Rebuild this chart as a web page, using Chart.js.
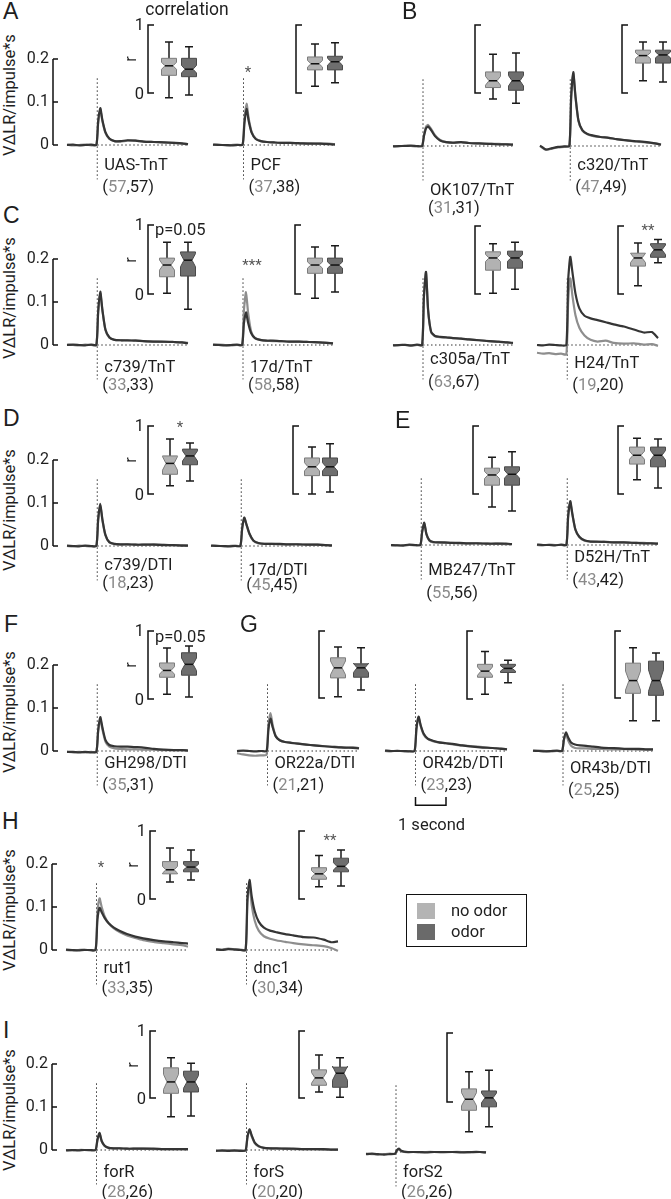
<!DOCTYPE html>
<html>
<head>
<meta charset="utf-8">
<script src="https://cdn.jsdelivr.net/npm/chart.js@4.4.1/dist/chart.umd.min.js"></script>
<style>
  body { margin: 0; background: #fff; }
  #fig { position: relative; width: 671px; height: 1199px; overflow: hidden; background: #fff;
         font-family: Roboto, "Liberation Sans", sans-serif; color: #1e1e1e; }
  #fig canvas { position: absolute; }
  .t { position: absolute; white-space: nowrap; line-height: 1; }
  .lbl { font-size: 16.5px; }
  .letter { font-size: 23px; font-family: "Liberation Sans", Arial, sans-serif; }
  .ytitle { font-size: 16.5px; }
  .star { font-size: 15px; color: #555; }
  .gray { color: #8a8a8a; }
  #legend { position: absolute; left: 406px; top: 894px; width: 121px; height: 53px; border: 1px solid #111; box-sizing: border-box; }
  .sw { position: absolute; width: 18px; height: 16px; }
</style>
</head>
<body>
<div id="fig"></div>
<script>
// ---- data ----
const panelNames = ["UAS-TnT", "PCF", "OK107/TnT", "c320/TnT",
  "c739/TnT", "17d/TnT", "c305a/TnT", "H24/TnT",
  "c739/DTI", "17d/DTI", "MB247/TnT", "D52H/TnT",
  "GH298/DTI", "OR22a/DTI", "OR42b/DTI", "OR43b/DTI",
  "rut1", "dnc1", "forR", "forS", "forS2"];
const nNoOdor = [57, 37, 31, 47, 33, 58, 63, 19, 18, 45, 55, 43, 35, 21, 23, 25, 33, 30, 28, 20, 26];
const nOdor   = [57, 38, 31, 49, 33, 58, 67, 20, 23, 45, 56, 42, 31, 21, 23, 25, 35, 34, 26, 20, 26];

// time (s) relative to stimulus
const timeS = [-1, -0.8, -0.6, -0.4, -0.2, -0.03, 0.03, 0.1, 0.17, 0.27, 0.4, 0.57, 0.77, 1, 1.27, 1.53, 1.87, 2.2, 2.53, 2.8, 3];

// VΔLR / impulse*s, no odor (light) and odor (dark)
const traceNoOdor = [
  [0.001,-0.001,0.000,0.001,-0.001,0.000,0.050,0.082,0.055,0.028,0.014,0.009,0.008,0.010,0.010,0.008,0.007,0.006,0.005,0.003,0.002],
  [0.000,0.001,-0.001,0.000,0.001,0.000,0.060,0.096,0.062,0.030,0.015,0.009,0.007,0.006,0.005,0.005,0.004,0.004,0.003,0.003,0.002],
  [0.000,-0.001,0.001,0.000,-0.001,0.000,0.025,0.045,0.049,0.040,0.025,0.014,0.009,0.007,0.009,0.007,0.006,0.005,0.005,0.004,0.003],
  [0.000,-0.009,-0.006,-0.003,-0.002,0.000,0.110,0.168,0.115,0.058,0.036,0.027,0.023,0.021,0.019,0.016,0.013,0.010,0.008,0.006,0.004],
  [0.001,0.000,-0.001,0.001,0.000,0.000,0.075,0.120,0.080,0.035,0.017,0.012,0.011,0.010,0.011,0.009,0.008,0.007,0.007,0.006,0.005],
  [0.000,0.001,0.000,-0.001,0.000,0.000,0.080,0.123,0.075,0.032,0.016,0.012,0.010,0.009,0.009,0.008,0.008,0.007,0.006,0.005,0.004],
  [0.000,-0.001,0.001,-0.002,0.000,0.000,0.110,0.168,0.080,0.030,0.020,0.018,0.017,0.016,0.015,0.013,0.011,0.009,0.007,0.006,0.004],
  [-0.018,-0.020,-0.019,-0.021,-0.020,-0.022,0.100,0.155,0.115,0.070,0.040,0.022,0.012,0.008,0.010,0.005,0.003,0.004,0.001,0.002,-0.002],
  [0.000,-0.001,0.001,0.000,-0.001,0.000,0.060,0.095,0.060,0.025,0.008,0.004,0.003,0.004,0.003,0.003,0.004,0.003,0.002,0.002,0.001],
  [0.000,0.001,-0.001,0.000,0.001,0.000,0.040,0.064,0.050,0.028,0.012,0.006,0.005,0.005,0.004,0.004,0.004,0.003,0.003,0.002,0.002],
  [-0.001,0.000,-0.002,0.000,-0.001,0.000,0.030,0.050,0.025,0.010,0.006,0.006,0.005,0.005,0.004,0.004,0.004,0.003,0.003,0.002,0.002],
  [0.000,-0.001,0.001,0.000,0.000,0.000,0.065,0.098,0.070,0.035,0.018,0.010,0.008,0.007,0.008,0.006,0.006,0.005,0.005,0.004,0.003],
  [-0.002,-0.003,-0.002,-0.003,-0.002,-0.002,0.045,0.074,0.050,0.022,0.010,0.006,0.005,0.004,0.004,0.003,0.003,0.002,0.002,0.002,0.001],
  [-0.005,-0.008,-0.010,-0.011,-0.010,-0.009,0.060,0.088,0.060,0.035,0.025,0.021,0.019,0.017,0.015,0.013,0.011,0.010,0.008,0.009,0.007],
  [0.000,-0.001,0.001,-0.001,0.000,0.000,0.050,0.077,0.058,0.038,0.028,0.023,0.020,0.018,0.015,0.013,0.011,0.009,0.007,0.006,0.004],
  [0.000,0.001,0.000,-0.001,0.000,0.000,0.025,0.040,0.025,0.012,0.007,0.006,0.006,0.005,0.005,0.004,0.004,0.004,0.003,0.003,0.003],
  [0.000,-0.001,0.000,0.001,-0.001,0.000,0.085,0.120,0.100,0.078,0.062,0.050,0.041,0.034,0.028,0.023,0.019,0.016,0.013,0.011,0.008],
  [0.002,0.001,0.003,0.002,0.001,0.000,0.110,0.155,0.105,0.068,0.045,0.032,0.026,0.022,0.019,0.016,0.013,0.011,0.009,0.004,-0.002],
  [0.000,-0.001,0.000,0.000,-0.001,0.000,0.022,0.038,0.020,0.009,0.005,0.004,0.004,0.003,0.003,0.003,0.002,0.002,0.002,0.002,0.001],
  [-0.001,-0.002,-0.001,-0.002,-0.001,-0.001,0.028,0.046,0.032,0.016,0.008,0.005,0.004,0.003,0.003,0.002,0.002,0.002,0.001,0.001,0.001],
  [-0.004,-0.005,-0.006,-0.005,-0.004,-0.004,0.003,0.006,0.002,0.000,-0.001,0.000,-0.001,0.000,0.000,-0.001,0.000,0.000,-0.001,0.000,-0.001]
];
const traceOdor = [
  [0.000,0.001,-0.001,0.000,0.001,0.000,0.055,0.086,0.058,0.030,0.015,0.009,0.009,0.011,0.010,0.008,0.007,0.006,0.005,0.004,0.002],
  [0.001,0.000,0.000,-0.001,0.000,0.001,0.050,0.084,0.056,0.028,0.014,0.009,0.007,0.006,0.005,0.005,0.004,0.003,0.003,0.002,0.001],
  [-0.001,0.000,0.000,0.001,0.000,0.000,0.022,0.041,0.045,0.037,0.023,0.013,0.009,0.008,0.009,0.007,0.006,0.005,0.004,0.004,0.003],
  [0.001,-0.008,-0.005,-0.002,-0.001,0.000,0.115,0.172,0.118,0.060,0.037,0.028,0.024,0.021,0.019,0.016,0.013,0.011,0.009,0.006,0.003],
  [0.000,0.001,0.000,-0.001,0.001,0.000,0.078,0.124,0.082,0.036,0.018,0.012,0.011,0.011,0.010,0.009,0.008,0.008,0.007,0.006,0.004],
  [0.001,0.000,-0.001,0.000,0.001,0.000,0.050,0.076,0.052,0.028,0.016,0.012,0.010,0.010,0.009,0.008,0.008,0.007,0.006,0.005,0.004],
  [-0.001,0.000,0.000,-0.001,0.001,0.000,0.112,0.170,0.082,0.031,0.021,0.019,0.018,0.016,0.015,0.013,0.011,0.009,0.008,0.006,0.005],
  [0.000,-0.001,0.001,0.000,-0.001,0.000,0.150,0.205,0.170,0.120,0.085,0.068,0.062,0.058,0.053,0.048,0.043,0.036,0.029,0.030,0.016],
  [0.001,0.000,-0.001,0.001,0.000,0.000,0.062,0.098,0.062,0.026,0.009,0.005,0.004,0.004,0.003,0.003,0.003,0.002,0.002,0.001,0.001],
  [0.001,0.000,0.000,-0.001,0.000,0.000,0.041,0.066,0.051,0.029,0.013,0.007,0.005,0.005,0.005,0.004,0.004,0.003,0.003,0.002,0.001],
  [0.000,-0.001,-0.001,0.001,0.000,0.000,0.031,0.052,0.026,0.011,0.007,0.006,0.006,0.005,0.005,0.004,0.004,0.003,0.003,0.003,0.002],
  [0.001,0.000,0.000,-0.001,0.001,0.000,0.068,0.102,0.072,0.036,0.019,0.011,0.008,0.008,0.007,0.006,0.006,0.005,0.004,0.004,0.003],
  [-0.002,-0.002,-0.003,-0.002,-0.003,-0.002,0.048,0.079,0.055,0.026,0.014,0.011,0.010,0.010,0.009,0.008,0.005,0.003,0.002,0.002,0.001],
  [0.000,0.001,0.000,-0.001,0.000,0.000,0.050,0.075,0.055,0.034,0.025,0.021,0.019,0.017,0.015,0.013,0.011,0.009,0.008,0.007,0.006],
  [0.001,0.000,0.000,0.000,-0.001,0.000,0.052,0.080,0.060,0.040,0.029,0.024,0.020,0.018,0.016,0.013,0.010,0.008,0.007,0.005,0.004],
  [0.001,0.000,-0.001,0.000,0.001,0.000,0.027,0.043,0.032,0.020,0.015,0.013,0.012,0.010,0.008,0.007,0.006,0.005,0.005,0.004,0.004],
  [0.001,0.000,-0.001,0.000,0.000,0.000,0.070,0.098,0.088,0.074,0.062,0.052,0.044,0.037,0.031,0.027,0.023,0.020,0.018,0.016,0.015],
  [0.001,0.000,0.002,0.001,0.000,0.000,0.120,0.163,0.125,0.090,0.066,0.052,0.045,0.041,0.037,0.034,0.030,0.029,0.024,0.018,0.020],
  [-0.001,0.000,-0.001,0.000,0.000,0.000,0.024,0.040,0.021,0.010,0.005,0.004,0.004,0.003,0.003,0.003,0.003,0.002,0.002,0.002,0.002],
  [-0.002,-0.001,-0.002,-0.001,-0.002,-0.001,0.030,0.048,0.034,0.017,0.009,0.005,0.004,0.004,0.003,0.003,0.002,0.002,0.002,0.001,0.001],
  [-0.005,-0.004,-0.005,-0.006,-0.005,-0.004,0.004,0.008,0.003,0.001,0.000,0.000,0.000,-0.001,0.000,0.000,0.000,-0.001,0.000,0.000,-0.001]
];

// correlation r boxes: [lower whisker, q1, median, q3, upper whisker]
const boxNoOdor = [
  [-0.07,0.26,0.40,0.51,0.75], [0.10,0.34,0.43,0.53,0.72], [-0.09,0.08,0.18,0.31,0.57], [0.18,0.44,0.55,0.63,0.75],
  [0.01,0.25,0.42,0.52,0.75], [-0.06,0.30,0.42,0.52,0.68], [0.01,0.35,0.53,0.62,0.74], [0.12,0.41,0.53,0.60,0.75],
  [0.12,0.29,0.45,0.56,0.81], [0.00,0.27,0.40,0.53,0.69], [-0.19,0.13,0.28,0.38,0.54], [0.21,0.44,0.57,0.69,0.82],
  [0.07,0.32,0.42,0.53,0.75], [0.02,0.30,0.45,0.60,0.76], [0.07,0.32,0.41,0.51,0.70], [-0.34,0.07,0.26,0.52,0.75],
  [0.25,0.37,0.43,0.55,0.75], [0.18,0.29,0.37,0.46,0.64],
  [-0.28,0.07,0.24,0.45,0.60], [0.09,0.19,0.30,0.42,0.64], [-0.43,-0.12,0.04,0.19,0.44]
];
const boxOdor = [
  [-0.03,0.24,0.35,0.51,0.68], [0.15,0.34,0.46,0.54,0.74], [-0.15,0.04,0.18,0.31,0.59], [0.16,0.44,0.56,0.63,0.75],
  [-0.22,0.26,0.49,0.61,0.75], [0.03,0.30,0.42,0.52,0.70], [0.07,0.38,0.53,0.63,0.76], [0.46,0.54,0.65,0.74,0.80],
  [0.19,0.43,0.56,0.66,0.75], [0.03,0.27,0.40,0.53,0.74], [-0.25,0.13,0.29,0.40,0.62], [0.09,0.40,0.57,0.69,0.81],
  [0.03,0.35,0.51,0.68,0.78], [0.12,0.31,0.45,0.51,0.75], [0.24,0.39,0.45,0.51,0.57], [-0.34,0.04,0.26,0.55,0.67],
  [0.28,0.40,0.47,0.55,0.72], [0.19,0.40,0.48,0.60,0.72],
  [-0.27,0.09,0.24,0.40,0.52], [0.01,0.16,0.37,0.46,0.60], [-0.36,-0.07,0.06,0.16,0.46]
];

const traceStars = ["", "*", "", "", "", "***", "", "", "", "", "", "", "", "", "", "", "*", "", "", "", ""];
const boxNotes   = ["", "", "", "", "p=0.05", "", "", "**", "*", "", "", "", "p=0.05", "", "", "", "", "**", "", "", ""];
const yTicks = [0, 0.1, 0.2];
const yTickLabels = ["0", "0.1", "0.2"];
const yTitle = "V\u0394LR/impulse*s";

// ---- layout (pixels) ----
// [traceStartX, traceEndX, baselineY, bracketX, r1Y, r0Y, box1X, box2X, labelDy, countDy]
const panelLayout = [
  [67,188,145,148,25,93,169,189,20,42], [213,335,145,296,25,93,315,335,20,42],
  [393,513,146,475,25,93,493,516,44,62], [540,661,146,622,25,93,643,663,19,41],
  [67,188,345,148,225,294,167,188,22,40], [213,333,345,295,225,294,315,335,22,40],
  [393,513,345,475,226,294,493,515,14,37], [537,658,345,618,226,294,638,658,18,40],
  [67,188,546,148,426,494,170,190,19,37], [211,332,546,293,426,494,312,330,24,39],
  [391,512,545,473,426,494,492,512,25,48], [537,658,545,618,426,494,637,658,12,35],
  [67,188,751,148,631,699,167,189,12,34], [237,359,751,319,631,698,338,361,12,34],
  [385,507,751,467,631,699,485,508,12,34], [533,653,751,615,631,698,633,656,17,39],
  [66,188,950,150,831,899,170,191,18,38], [216,338,950,299,831,899,319,341,18,38],
  [66,188,1150,150,1031,1098,171,191,22,42], [216,338,1150,299,1031,1098,319,340,22,42],
  [366,486,1152,447,1033,1102,469,489,20,40]
];
const firstCol = [0, 4, 8, 12, 16, 18];
const starPos = { 1: [248, 72], 5: [252, 265], 16: [101, 867] };
const notePos = { 4: [155, 230], 7: [648, 230], 8: [180, 427], 12: [155, 637], 17: [330, 840] };
const letters = [["A", 3, 11], ["B", 402, 11], ["C", 3, 215], ["D", 3, 418], ["E", 395, 420],
  ["F", 4, 624], ["G", 240, 624], ["H", 2, 821], ["I", 3, 1030]];
const titleY = [95, 298, 510, 712, 910, 1110];

const PX_PER_UNIT = 430;     // trace y: pixels per VΔLR unit
const ODOR_LINE = "#353535";
const NO_ODOR_LINE = "#8e8e8e";
const BOX_FILL = ["#b2b2b2", "#6e6e6e"];
const BOX_EDGE = ["#7c7c7c", "#4a4a4a"];
const TICK_FONT = "16px Roboto, 'Liberation Sans', sans-serif";

const fig = document.getElementById("fig");

function addCanvas(left, top, w, h) {
  const c = document.createElement("canvas");
  c.width = w; c.height = h;
  c.style.left = left + "px"; c.style.top = top + "px";
  c.style.width = w + "px"; c.style.height = h + "px";
  fig.appendChild(c);
  return c;
}

function addText(html, x, y, cls, align, rotate) {
  const d = document.createElement("div");
  d.className = "t " + (cls || "");
  d.innerHTML = html;
  d.style.left = x + "px";
  d.style.top = y + "px";
  const tx = align === "c" ? "-50%" : align === "r" ? "-100%" : "0";
  d.style.transform = `translate(${tx},-50%)` + (rotate ? " rotate(-90deg)" : "");
  fig.appendChild(d);
  return d;
}

const toXY = (xs, ys) => xs.map((x, k) => ({ x, y: ys[k] }));

// y axis bracket with inward ticks, and the 1 s scale bar
const traceAxisPlugin = {
  id: "traceAxis",
  afterDatasetsDraw(chart, args, opts) {
    const { ctx, scales: { x, y } } = chart;
    ctx.save();
    ctx.strokeStyle = "#111";
    ctx.fillStyle = "#1e1e1e";
    ctx.lineWidth = 1.5;
    if (opts.axis) {
      const ax = Math.round(x.getPixelForValue(timeS[0])) - 14;
      ctx.beginPath();
      ctx.moveTo(ax, y.getPixelForValue(yTicks[0]));
      ctx.lineTo(ax, y.getPixelForValue(yTicks[yTicks.length - 1]));
      yTicks.forEach(v => {
        const py = y.getPixelForValue(v);
        ctx.moveTo(ax, py);
        ctx.lineTo(ax + 5, py);
      });
      ctx.stroke();
      ctx.font = TICK_FONT;
      ctx.textAlign = "right";
      ctx.textBaseline = "middle";
      yTicks.forEach((v, k) => ctx.fillText(yTickLabels[k], ax - 4, y.getPixelForValue(v)));
    }
    if (opts.scaleBar) {
      const xa = x.getPixelForValue(0), xb = x.getPixelForValue(1);
      const ya = y.getPixelForValue(-0.107), yb = y.getPixelForValue(-0.126);
      ctx.beginPath();
      ctx.moveTo(xa, ya); ctx.lineTo(xa, yb); ctx.lineTo(xb, yb); ctx.lineTo(xb, ya);
      ctx.stroke();
    }
    ctx.restore();
  }
};

// notched box plots (notch = median ± 1.57·IQR/√n) with the "[" r-axis
const notchBoxPlugin = {
  id: "notchBox",
  afterDatasetsDraw(chart, args, o) {
    const { ctx, scales: { x, y } } = chart;
    const py = v => y.getPixelForValue(v);
    ctx.save();
    ctx.strokeStyle = "#111";
    ctx.lineWidth = 1.5;
    ctx.beginPath();
    ctx.moveTo(o.bracketX + 6, py(1)); ctx.lineTo(o.bracketX, py(1));
    ctx.lineTo(o.bracketX, py(0)); ctx.lineTo(o.bracketX + 6, py(0));
    ctx.stroke();
    o.stats.forEach((s, k) => {
      const [lo, q1, med, q3, hi] = s;
      const cx = x.getPixelForValue(k);
      const half = 7.5, nh = 4, cap = 4;
      const notch = 1.57 * (q3 - q1) / Math.sqrt(o.n[k]);
      const nHi = med + notch, nLo = med - notch;
      ctx.strokeStyle = "#1a1a1a";
      ctx.lineWidth = 1.5;
      ctx.beginPath();
      ctx.moveTo(cx, py(q3)); ctx.lineTo(cx, py(hi));
      ctx.moveTo(cx - cap, py(hi)); ctx.lineTo(cx + cap, py(hi));
      ctx.moveTo(cx, py(q1)); ctx.lineTo(cx, py(lo));
      ctx.moveTo(cx - cap, py(lo)); ctx.lineTo(cx + cap, py(lo));
      ctx.stroke();
      ctx.beginPath();
      ctx.moveTo(cx - half, py(q3)); ctx.lineTo(cx + half, py(q3));
      ctx.lineTo(cx + half, py(nHi)); ctx.lineTo(cx + nh, py(med)); ctx.lineTo(cx + half, py(nLo));
      ctx.lineTo(cx + half, py(q1)); ctx.lineTo(cx - half, py(q1));
      ctx.lineTo(cx - half, py(nLo)); ctx.lineTo(cx - nh, py(med)); ctx.lineTo(cx - half, py(nHi));
      ctx.closePath();
      ctx.fillStyle = o.fills[k];
      ctx.fill();
      ctx.strokeStyle = o.edges[k];
      ctx.lineWidth = 1;
      ctx.stroke();
      ctx.strokeStyle = "#111";
      ctx.lineWidth = 1.5;
      ctx.beginPath();
      ctx.moveTo(cx - nh, py(med)); ctx.lineTo(cx + nh, py(med));
      ctx.stroke();
    });
    ctx.restore();
  }
};

function traceChart(i) {
  const [x0, x1, base] = panelLayout[i];
  const first = firstCol.includes(i);
  const padL = first ? x0 - 20 : 4, padR = 4;
  const topPx = 99, botPx = 64;
  const tStart = timeS[0], tEnd = timeS[timeS.length - 1];
  const pxPerSec = (x1 - x0) / (tEnd - tStart);
  const canvas = addCanvas(x0 - padL, base - topPx, x1 - x0 + padL + padR, topPx + botPx);
  const dotted = { borderColor: "#333", borderWidth: 1, borderDash: [1.5, 2.5], pointRadius: 0 };
  new Chart(canvas, {
    type: "line",
    data: {
      datasets: [
        { data: toXY(timeS, traceOdor[i]), borderColor: ODOR_LINE, borderWidth: 2.2, pointRadius: 0, tension: 0.2 },
        { data: toXY(timeS, traceNoOdor[i]), borderColor: NO_ODOR_LINE, borderWidth: 2.2, pointRadius: 0, tension: 0.2 },
        { data: [{ x: 0, y: 0.155 }, { x: 0, y: -0.08 }], ...dotted },
        { data: [{ x: 0, y: 0 }, { x: tEnd, y: 0 }], ...dotted }
      ]
    },
    options: {
      responsive: false, animation: false, devicePixelRatio: 1, events: [],
      layout: { padding: 0 },
      plugins: { legend: { display: false }, tooltip: { enabled: false },
        traceAxis: { axis: first, scaleBar: i === 14 } },
      scales: {
        x: { type: "linear", display: false, min: tStart - padL / pxPerSec, max: tEnd + padR / pxPerSec },
        y: { display: false, min: -botPx / PX_PER_UNIT, max: topPx / PX_PER_UNIT }
      }
    },
    plugins: [traceAxisPlugin]
  });
}

function boxChart(i) {
  const [, , , bx, r1, r0, b1, b2] = panelLayout[i];
  const padL = 30, right = b2 + 12;
  const left = bx - padL;
  const pxPerR = r0 - r1;
  const topPx = 8, botPx = 40;
  const du = b2 - b1;
  const canvas = addCanvas(left, r1 - topPx, right - left, pxPerR + topPx + botPx);
  new Chart(canvas, {
    type: "scatter",
    data: { datasets: [{ data: [{ x: 0, y: boxNoOdor[i][2] }, { x: 1, y: boxOdor[i][2] }], pointRadius: 0 }] },
    options: {
      responsive: false, animation: false, devicePixelRatio: 1, events: [],
      layout: { padding: 0 },
      plugins: { legend: { display: false }, tooltip: { enabled: false },
        notchBox: { bracketX: padL, stats: [boxNoOdor[i], boxOdor[i]], n: [nNoOdor[i], nOdor[i]],
          fills: BOX_FILL, edges: BOX_EDGE } },
      scales: {
        x: { type: "linear", display: false, min: -(b1 - left) / du, max: 1 + (right - b2) / du },
        y: { display: false, min: -botPx / pxPerR, max: 1 + topPx / pxPerR }
      }
    },
    plugins: [notchBoxPlugin]
  });
}

panelNames.forEach((name, i) => {
  traceChart(i);
  boxChart(i);
  const [x0, x1, base, bx, r1, r0, , , labDy, nDy] = panelLayout[i];
  const stim = x0 + (x1 - x0) * (0 - timeS[0]) / (timeS[timeS.length - 1] - timeS[0]);
  addText(name, stim + 7, base + labDy, "lbl", "l");
  addText(`(<span class="gray">${nNoOdor[i]}</span>,${nOdor[i]})`, stim + 5, base + nDy, "lbl", "l");
  if (traceStars[i]) addText(traceStars[i], starPos[i][0], starPos[i][1], "star", "c");
  if (boxNotes[i]) {
    const isP = boxNotes[i].startsWith("p");
    addText(boxNotes[i], notePos[i][0], notePos[i][1], isP ? "lbl" : "star", isP ? "l" : "c");
  }
  if (firstCol.includes(i)) {
    addText("1", bx - 4, r1, "lbl", "r");
    addText("0", bx - 4, r0 + 1, "lbl", "r");
    addText("r", bx - 17, (r1 + r0) / 2, "lbl", "c", true);
  }
});

letters.forEach(([l, x, y]) => addText(l, x, y, "letter", "l"));
titleY.forEach(y => addText(yTitle, 10, y, "ytitle", "c", true));
addText("correlation", 187, 10, "lbl", "c").style.fontSize = "17.5px";
addText("1 second", 398, 825, "lbl", "l");

// legend
const lg = document.createElement("div");
lg.id = "legend";
lg.innerHTML = `<div class="sw" style="left:10px;top:8px;background:#b4b4b4"></div>
  <div class="t lbl" style="left:44px;top:16px;transform:translateY(-50%)">no odor</div>
  <div class="sw" style="left:10px;top:29px;background:#6a6a6a"></div>
  <div class="t lbl" style="left:44px;top:37px;transform:translateY(-50%)">odor</div>`;
fig.appendChild(lg);
</script>
</body>
</html>
